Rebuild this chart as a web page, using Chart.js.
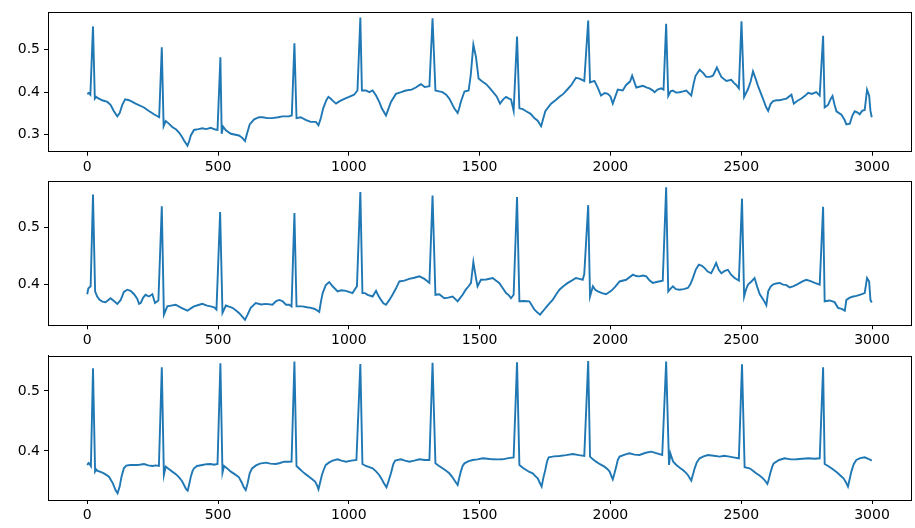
<!DOCTYPE html>
<html>
<head>
<meta charset="utf-8">
<script src="https://cdn.jsdelivr.net/npm/chart.js@4.4.0/dist/chart.umd.min.js"></script>
<style>
  body { margin: 0; background: #fff; }
  #wrap { position: relative; width: 915px; height: 528px; }
  canvas { position: absolute; left: 0; top: 0; }
</style>
</head>
<body>
<div id="wrap">
  <canvas id="c1" width="915" height="528"></canvas>
  <canvas id="c2" width="915" height="528"></canvas>
  <canvas id="c3" width="915" height="528"></canvas>
</div>
<script>
// tick labels
const xTicks = [0, 500, 1000, 1500, 2000, 2500, 3000];
const yTicksTop = [0.3, 0.4, 0.5];
const yTicksLower = [0.4, 0.5];

// signal 1 (sample, value)
const ecgTop = [[0,0.396],[6,0.398],[12,0.394],[22,0.555],[29,0.385],[34,0.389],[38,0.387],[57,0.381],[77,0.377],[89,0.370],[102,0.355],[115,0.343],[124,0.351],[134,0.370],[145,0.383],[160,0.381],[185,0.373],[217,0.364],[230,0.358],[255,0.348],[275,0.341],[285,0.506],[292,0.320],[300,0.332],[312,0.326],[325,0.318],[340,0.312],[351,0.305],[362,0.295],[370,0.286],[383,0.274],[390,0.285],[396,0.298],[408,0.311],[425,0.313],[440,0.315],[455,0.313],[472,0.316],[490,0.312],[498,0.311],[509,0.482],[514,0.302],[519,0.319],[530,0.310],[549,0.302],[580,0.298],[592,0.293],[603,0.285],[612,0.305],[621,0.324],[638,0.336],[657,0.341],[670,0.341],[690,0.339],[708,0.339],[730,0.341],[746,0.343],[770,0.343],[782,0.345],[792,0.515],[800,0.339],[816,0.341],[835,0.335],[854,0.330],[874,0.330],[884,0.322],[893,0.339],[902,0.362],[914,0.381],[922,0.389],[930,0.385],[940,0.379],[951,0.373],[965,0.379],[985,0.385],[1001,0.389],[1020,0.394],[1033,0.404],[1044,0.576],[1050,0.404],[1065,0.404],[1078,0.400],[1091,0.404],[1104,0.392],[1118,0.375],[1126,0.362],[1142,0.345],[1152,0.362],[1161,0.377],[1180,0.396],[1200,0.400],[1218,0.404],[1240,0.406],[1256,0.411],[1268,0.416],[1276,0.419],[1290,0.412],[1308,0.414],[1320,0.574],[1331,0.404],[1345,0.402],[1358,0.400],[1372,0.394],[1384,0.385],[1395,0.372],[1403,0.362],[1416,0.351],[1422,0.362],[1428,0.377],[1442,0.4015],[1458,0.404],[1466,0.440],[1476,0.512],[1486,0.483],[1496,0.432],[1510,0.425],[1525,0.419],[1538,0.410],[1550,0.4015],[1565,0.390],[1578,0.373],[1590,0.383],[1601,0.389],[1612,0.385],[1620,0.383],[1630,0.356],[1643,0.531],[1652,0.362],[1665,0.360],[1678,0.355],[1695,0.349],[1709,0.339],[1722,0.333],[1735,0.320],[1751,0.355],[1773,0.373],[1790,0.381],[1805,0.389],[1820,0.396],[1837,0.4075],[1852,0.418],[1868,0.434],[1882,0.432],[1900,0.4265],[1915,0.569],[1922,0.423],[1939,0.4265],[1952,0.410],[1964,0.392],[1978,0.398],[1990,0.396],[2000,0.390],[2009,0.373],[2028,0.406],[2047,0.404],[2060,0.417],[2075,0.425],[2083,0.439],[2099,0.411],[2124,0.415],[2140,0.411],[2149,0.409],[2160,0.405],[2169,0.400],[2180,0.406],[2194,0.409],[2203,0.406],[2213,0.561],[2221,0.391],[2230,0.402],[2239,0.404],[2250,0.399],[2264,0.400],[2278,0.402],[2290,0.404],[2300,0.398],[2309,0.392],[2318,0.420],[2325,0.438],[2341,0.453],[2355,0.445],[2366,0.436],[2380,0.436],[2392,0.439],[2407,0.458],[2416,0.446],[2424,0.436],[2443,0.4265],[2462,0.429],[2472,0.422],[2481,0.417],[2491,0.409],[2501,0.567],[2511,0.389],[2526,0.4075],[2536,0.425],[2545,0.449],[2555,0.432],[2564,0.415],[2583,0.385],[2595,0.365],[2603,0.356],[2612,0.372],[2622,0.379],[2635,0.381],[2647,0.381],[2660,0.383],[2673,0.385],[2692,0.394],[2701,0.373],[2715,0.380],[2730,0.385],[2745,0.392],[2756,0.3985],[2770,0.396],[2787,0.400],[2800,0.392],[2813,0.533],[2819,0.364],[2832,0.370],[2842,0.384],[2849,0.391],[2857,0.370],[2864,0.355],[2883,0.347],[2895,0.335],[2902,0.324],[2915,0.326],[2925,0.345],[2934,0.355],[2945,0.352],[2953,0.348],[2962,0.356],[2972,0.358],[2981,0.406],[2989,0.392],[2994,0.356],[2999,0.341]];

// signal 2
const ecgMid = [[0,0.382],[4,0.392],[13,0.396],[22,0.558],[30,0.387],[38,0.378],[47,0.372],[58,0.369],[70,0.368],[89,0.375],[102,0.370],[115,0.365],[128,0.372],[140,0.386],[153,0.390],[166,0.388],[179,0.382],[191,0.374],[198,0.365],[205,0.367],[214,0.376],[223,0.381],[236,0.378],[249,0.382],[259,0.3665],[272,0.371],[285,0.537],[293,0.346],[306,0.3605],[320,0.362],[338,0.3635],[360,0.358],[383,0.353],[396,0.357],[408,0.3605],[425,0.363],[440,0.365],[458,0.362],[472,0.3605],[485,0.359],[494,0.355],[508,0.527],[517,0.349],[530,0.362],[542,0.360],[555,0.358],[570,0.353],[580,0.349],[592,0.343],[603,0.337],[612,0.345],[625,0.358],[644,0.3665],[665,0.364],[683,0.365],[708,0.3635],[722,0.370],[734,0.372],[746,0.370],[760,0.3635],[772,0.3635],[781,0.3605],[792,0.525],[800,0.3605],[823,0.3605],[840,0.359],[855,0.358],[870,0.356],[887,0.351],[893,0.368],[900,0.384],[912,0.398],[925,0.4035],[938,0.396],[957,0.387],[972,0.389],[989,0.388],[1014,0.384],[1031,0.396],[1044,0.562],[1052,0.384],[1062,0.384],[1072,0.381],[1091,0.378],[1104,0.388],[1112,0.380],[1123,0.372],[1132,0.366],[1142,0.3635],[1155,0.372],[1167,0.381],[1180,0.392],[1193,0.4045],[1212,0.406],[1231,0.409],[1250,0.411],[1270,0.4135],[1289,0.409],[1308,0.402],[1320,0.556],[1331,0.381],[1346,0.382],[1365,0.375],[1380,0.376],[1397,0.378],[1416,0.3695],[1425,0.375],[1435,0.381],[1447,0.390],[1458,0.396],[1467,0.402],[1476,0.439],[1486,0.4105],[1492,0.396],[1505,0.4075],[1525,0.408],[1550,0.4105],[1562,0.406],[1575,0.402],[1588,0.393],[1601,0.384],[1612,0.380],[1620,0.375],[1630,0.381],[1643,0.5535],[1652,0.3695],[1670,0.370],[1690,0.3695],[1700,0.362],[1709,0.355],[1720,0.350],[1731,0.346],[1742,0.352],[1754,0.359],[1767,0.366],[1780,0.3725],[1793,0.382],[1805,0.390],[1820,0.396],[1837,0.402],[1852,0.406],[1868,0.4105],[1882,0.409],[1894,0.4075],[1900,0.4175],[1915,0.539],[1922,0.378],[1933,0.396],[1942,0.390],[1952,0.387],[1968,0.384],[1983,0.382],[2003,0.388],[2018,0.395],[2035,0.4045],[2060,0.4075],[2086,0.4165],[2098,0.414],[2111,0.4135],[2124,0.415],[2137,0.4135],[2150,0.406],[2162,0.402],[2180,0.404],[2200,0.406],[2213,0.5705],[2221,0.387],[2230,0.392],[2239,0.396],[2250,0.391],[2264,0.390],[2280,0.391],[2296,0.393],[2306,0.400],[2315,0.4105],[2326,0.425],[2338,0.434],[2350,0.432],[2360,0.428],[2372,0.422],[2385,0.419],[2395,0.428],[2404,0.437],[2414,0.425],[2424,0.419],[2437,0.423],[2449,0.425],[2462,0.416],[2475,0.4105],[2491,0.406],[2503,0.5505],[2511,0.378],[2518,0.390],[2526,0.399],[2539,0.4045],[2551,0.4105],[2561,0.395],[2571,0.382],[2585,0.372],[2596,0.3625],[2603,0.387],[2612,0.395],[2621,0.399],[2634,0.401],[2647,0.402],[2660,0.399],[2673,0.398],[2685,0.394],[2698,0.396],[2712,0.399],[2724,0.402],[2736,0.405],[2749,0.4075],[2765,0.405],[2781,0.402],[2800,0.399],[2813,0.536],[2819,0.3695],[2838,0.371],[2857,0.368],[2870,0.358],[2884,0.356],[2896,0.353],[2902,0.372],[2915,0.376],[2928,0.378],[2940,0.379],[2953,0.381],[2972,0.384],[2981,0.4105],[2989,0.4045],[2994,0.372],[2999,0.3675]];

// signal 3
const ecgLow = [[0,0.3767],[5,0.380],[10,0.378],[14,0.375],[22,0.5378],[30,0.3656],[35,0.369],[38,0.3672],[58,0.3639],[70,0.361],[83,0.3572],[98,0.3461],[108,0.335],[116,0.3294],[124,0.3406],[131,0.3572],[140,0.3711],[149,0.3756],[165,0.3767],[185,0.3767],[200,0.377],[217,0.3783],[233,0.376],[249,0.375],[262,0.376],[274,0.375],[285,0.5394],[293,0.36],[300,0.3739],[312,0.370],[325,0.3656],[340,0.361],[351,0.3561],[362,0.350],[370,0.3433],[378,0.3365],[384,0.3339],[390,0.345],[396,0.3572],[402,0.366],[408,0.3711],[420,0.375],[440,0.3767],[456,0.378],[472,0.3783],[485,0.377],[498,0.3783],[509,0.5461],[517,0.3639],[523,0.375],[535,0.371],[549,0.3656],[565,0.361],[580,0.3561],[590,0.348],[598,0.340],[606,0.335],[613,0.346],[621,0.3628],[630,0.371],[645,0.376],[660,0.379],[683,0.3806],[700,0.379],[721,0.3783],[737,0.380],[753,0.3822],[768,0.382],[781,0.3822],[792,0.5489],[800,0.375],[812,0.370],[823,0.3656],[836,0.361],[848,0.3572],[860,0.353],[871,0.3489],[878,0.343],[884,0.3361],[890,0.347],[897,0.36],[905,0.370],[912,0.3767],[925,0.381],[938,0.3839],[957,0.3861],[972,0.384],[989,0.3822],[1010,0.384],[1029,0.385],[1044,0.545],[1052,0.3783],[1065,0.375],[1078,0.373],[1091,0.3711],[1104,0.366],[1116,0.36],[1126,0.353],[1133,0.3472],[1144,0.3394],[1152,0.350],[1161,0.3628],[1170,0.378],[1177,0.3839],[1199,0.3861],[1215,0.384],[1231,0.3822],[1250,0.384],[1270,0.3861],[1290,0.385],[1308,0.385],[1320,0.5472],[1331,0.3794],[1345,0.375],[1358,0.3711],[1372,0.367],[1384,0.3628],[1395,0.357],[1403,0.3517],[1410,0.347],[1416,0.3433],[1422,0.355],[1428,0.3656],[1435,0.375],[1442,0.3794],[1458,0.383],[1473,0.385],[1492,0.386],[1512,0.3878],[1530,0.387],[1550,0.3861],[1570,0.386],[1588,0.3861],[1610,0.388],[1630,0.3894],[1643,0.5478],[1652,0.3767],[1665,0.372],[1678,0.3683],[1690,0.365],[1703,0.3628],[1713,0.358],[1722,0.3544],[1730,0.347],[1737,0.3406],[1744,0.356],[1751,0.3683],[1758,0.383],[1764,0.3894],[1785,0.391],[1805,0.3917],[1830,0.393],[1856,0.395],[1880,0.393],[1900,0.3917],[1915,0.55],[1922,0.3906],[1933,0.386],[1945,0.3822],[1960,0.378],[1977,0.3739],[1988,0.370],[1997,0.3656],[2003,0.359],[2009,0.3528],[2015,0.362],[2022,0.3739],[2028,0.385],[2035,0.3906],[2055,0.394],[2073,0.3961],[2092,0.394],[2111,0.3933],[2135,0.397],[2156,0.3989],[2178,0.396],[2198,0.3933],[2213,0.5489],[2224,0.3767],[2229,0.3961],[2240,0.382],[2252,0.3767],[2265,0.372],[2277,0.3683],[2288,0.364],[2296,0.36],[2303,0.355],[2309,0.3506],[2315,0.360],[2322,0.3711],[2330,0.381],[2341,0.3878],[2356,0.391],[2373,0.3933],[2395,0.392],[2418,0.3906],[2435,0.392],[2455,0.3906],[2475,0.389],[2491,0.3878],[2503,0.5444],[2513,0.3728],[2532,0.3711],[2545,0.367],[2557,0.3628],[2570,0.359],[2583,0.3544],[2592,0.350],[2600,0.345],[2605,0.352],[2611,0.3628],[2618,0.373],[2624,0.3794],[2645,0.385],[2666,0.3878],[2690,0.386],[2711,0.3861],[2735,0.387],[2756,0.3878],[2780,0.387],[2800,0.3878],[2813,0.5394],[2819,0.3783],[2832,0.375],[2845,0.3711],[2858,0.367],[2870,0.3628],[2882,0.358],[2891,0.3544],[2900,0.348],[2908,0.3406],[2914,0.352],[2921,0.3656],[2930,0.378],[2940,0.385],[2955,0.388],[2972,0.3894],[2986,0.387],[2999,0.3839]];

// draws the top/right spines too, like matplotlib
const frameBox = {
    id: 'frameBox',
    afterDraw(chart) {
        const a = chart.chartArea, ctx = chart.ctx;
        ctx.save();
        ctx.strokeStyle = '#000';
        ctx.lineWidth = 1;
        ctx.strokeRect(Math.round(a.left) + 0.5, Math.round(a.top) + 0.5,
            Math.round(a.right - a.left), Math.round(a.bottom - a.top));
        ctx.restore();
    }
};

const tickFont = { family: 'DejaVu Sans', size: 14 };

function makePanel(id, points, yMin, yMax, yTicks, padTop, padBottom) {
    new Chart(document.getElementById(id), {
        type: 'line',
        data: {
            datasets: [{
                data: points.map(p => ({ x: p[0], y: p[1] })),
                borderColor: '#1f77b4',
                borderWidth: 1.9,
                pointRadius: 0,
                tension: 0,
                fill: false
            }]
        },
        options: {
            responsive: false,
            animation: false,
            events: [],
            layout: { padding: { top: padTop, bottom: padBottom, left: 0, right: 4 } },
            plugins: { legend: { display: false }, tooltip: { enabled: false } },
            scales: {
                x: {
                    type: 'linear',
                    min: -150,
                    max: 3149,
                    afterBuildTicks: s => { s.ticks = xTicks.map(v => ({ value: v })); },
                    afterFit: s => { s.height = 24; },
                    grid: { drawOnChartArea: false, tickLength: 4, tickColor: '#000' },
                    border: { color: '#000' },
                    ticks: { color: '#000', font: tickFont, padding: 3, maxRotation: 0, callback: v => String(v) }
                },
                y: {
                    min: yMin,
                    max: yMax,
                    afterBuildTicks: s => { s.ticks = yTicks.map(v => ({ value: v })); },
                    afterFit: s => { s.width = 48; },
                    grid: { drawOnChartArea: false, tickLength: 4, tickColor: '#000' },
                    border: { color: '#000' },
                    ticks: { color: '#000', font: tickFont, padding: 4, callback: v => v.toFixed(1) }
                }
            }
        },
        plugins: [frameBox]
    });
}

makePanel('c1', ecgTop, 0.2598, 0.588, yTicksTop, 7.3, 352.3);
makePanel('c2', ecgMid, 0.3272, 0.5811, yTicksLower, 181.3, 178.7);
makePanel('c3', ecgLow, 0.3183, 0.5588, yTicksLower, 355.7, 4);
</script>
</body>
</html>
